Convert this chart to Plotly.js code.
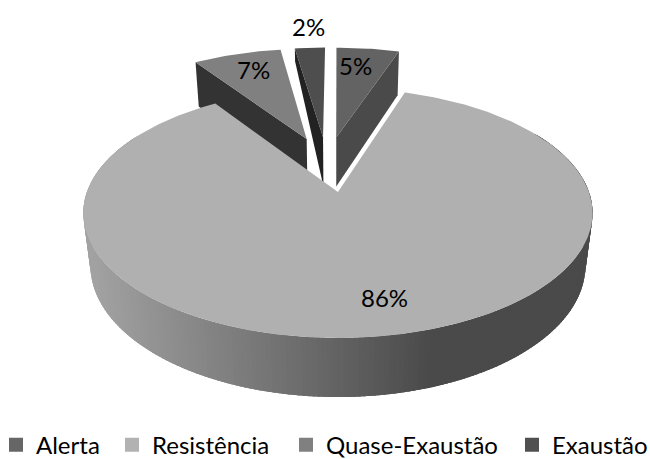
<!DOCTYPE html>
<html><head><meta charset="utf-8">
<script src="https://cdn.plot.ly/plotly-3.0.1.min.js"></script>
<style>html,body{margin:0;padding:0;background:#fff}</style></head>
<body><div id="chart" style="width:650px;height:459px"></div>
<script>
// data
const categories = ["Alerta", "Resistência", "Quase-Exaustão", "Exaustão"];
const values = [5, 85.6, 7, 2.4];
// styles
const topColors = ["#636363", "#b0b0b0", "#808080", "#4e4e4e"];
const sideColors = ["#4a4a4a", "#808080", "#333333", "#222222"];
const legendColors = ["#666666", "#b2b2b2", "#808080", "#505050"];
const labelX = [355, 384, 253, 308];
const labelY = [65, 297, 69, 26];
const legendLeft = [-4, 112, 286, 512];

// projection of the tilted pie plane onto page pixels
const R = 251, cx = 338, tilt = 0.168;
function projTop(u, v) { const w = 1 + tilt * v; return [cx + R * u / w, (192 - 89.2 * v) / w]; }
function projBot(u, v) { const w = 1.028 + tilt * v; return [cx + R * u / w, (250.8 - 90.6 * v) / w]; }
const explode = 0.245, u0 = -0.034, v0 = 0.2425, backShift = -0.012;
const rad = d => d * Math.PI / 180;

const total = values.reduce((a, b) => a + b, 0);
const largest = values.indexOf(Math.max(...values));
let acc = 0;
const slices = values.map((val, i) => {
  const a = acc / total * 360; acc += val; const b = acc / total * 360;
  const m = rad((a + b) / 2);
  return { a, b, i, u: u0 + explode * Math.sin(m) + (i === largest ? 0 : backShift), v: v0 + explode * Math.cos(m) };
});
const pt = (s, deg, proj) => proj(s.u + Math.sin(rad(deg)), s.v + Math.cos(rad(deg)));
const apex = (s, proj) => proj(s.u, s.v);

function poly(points, color) {
  return { type: "scatter", mode: "lines", x: points.map(p => p[0]), y: points.map(p => p[1]),
    fill: "toself", fillcolor: color, line: { color: color, width: 0 },
    showlegend: false, hoverinfo: "skip" };
}
function topFace(s) {
  const pts = [apex(s, projTop)];
  for (let d = s.a; d < s.b; d += 1) pts.push(pt(s, d, projTop));
  pts.push(pt(s, s.b, projTop)); pts.push(apex(s, projTop));
  return poly(pts, topColors[s.i]);
}
function cutFace(s, deg, outerDepth) {
  const t = pt(s, deg, projTop), b = pt(s, deg, projBot), k = outerDepth === undefined ? 1 : outerDepth;
  return poly([apex(s, projTop), t, [t[0] + (b[0] - t[0]) * k, t[1] + (b[1] - t[1]) * k], apex(s, projBot)], sideColors[s.i]);
}
const traces = [];
const [sA, sR, sQ, sE] = slices;
// back slices first
traces.push(cutFace(sQ, sQ.a), topFace(sQ));
traces.push(cutFace(sE, sE.a, 0.3), topFace(sE));
traces.push(cutFace(sA, sA.b), topFace(sA));
// front rim of the big slice, shaded left to right, overlapping to avoid seams
function rimGray(x) { const g = Math.round(Math.max(74, Math.min(162, 162 - (x - 90) * 0.259))); return `rgb(${g},${g},${g})`; }
for (let d = 300; d > 60; d -= 1) {
  const e = d - 2.5;
  const p1 = pt(sR, d, projTop), p2 = pt(sR, e, projTop), p3 = pt(sR, e, projBot), p4 = pt(sR, d, projBot);
  traces.push(poly([p1, p2, p3, p4], rimGray(p1[0])));
}
traces.push(topFace(sR));
// legend entries
const legends = {};
categories.forEach((c, i) => {
  const key = i === 0 ? "legend" : "legend" + (i + 1);
  traces.push({ type: "scatter", mode: "markers", x: [null], y: [null], name: c, legend: key,
    marker: { color: legendColors[i], symbol: "square", size: 14 }, hoverinfo: "skip" });
  legends[key] = { orientation: "h", x: legendLeft[i] / 650, y: -0.019, xanchor: "left", yanchor: "bottom",
    bgcolor: "rgba(0,0,0,0)", font: { family: "Lato", size: 24, color: "#000" } };
});
const annotations = values.map((v, i) => ({ x: labelX[i], y: labelY[i], xref: "x", yref: "y",
  text: Math.round(v / total * 100) + "%", showarrow: false,
  font: { family: "Lato", size: 24, color: "#000" } }));

Plotly.newPlot("chart", traces, Object.assign({
  width: 650, height: 459, margin: { l: 0, r: 0, t: 0, b: 0, autoexpand: false },
  paper_bgcolor: "#fff", plot_bgcolor: "#fff",
  xaxis: { range: [0, 650], visible: false, fixedrange: true },
  yaxis: { range: [459, 0], visible: false, fixedrange: true },
  showlegend: true, annotations
}, legends), { displayModeBar: false, staticPlot: true });
</script></body></html>
